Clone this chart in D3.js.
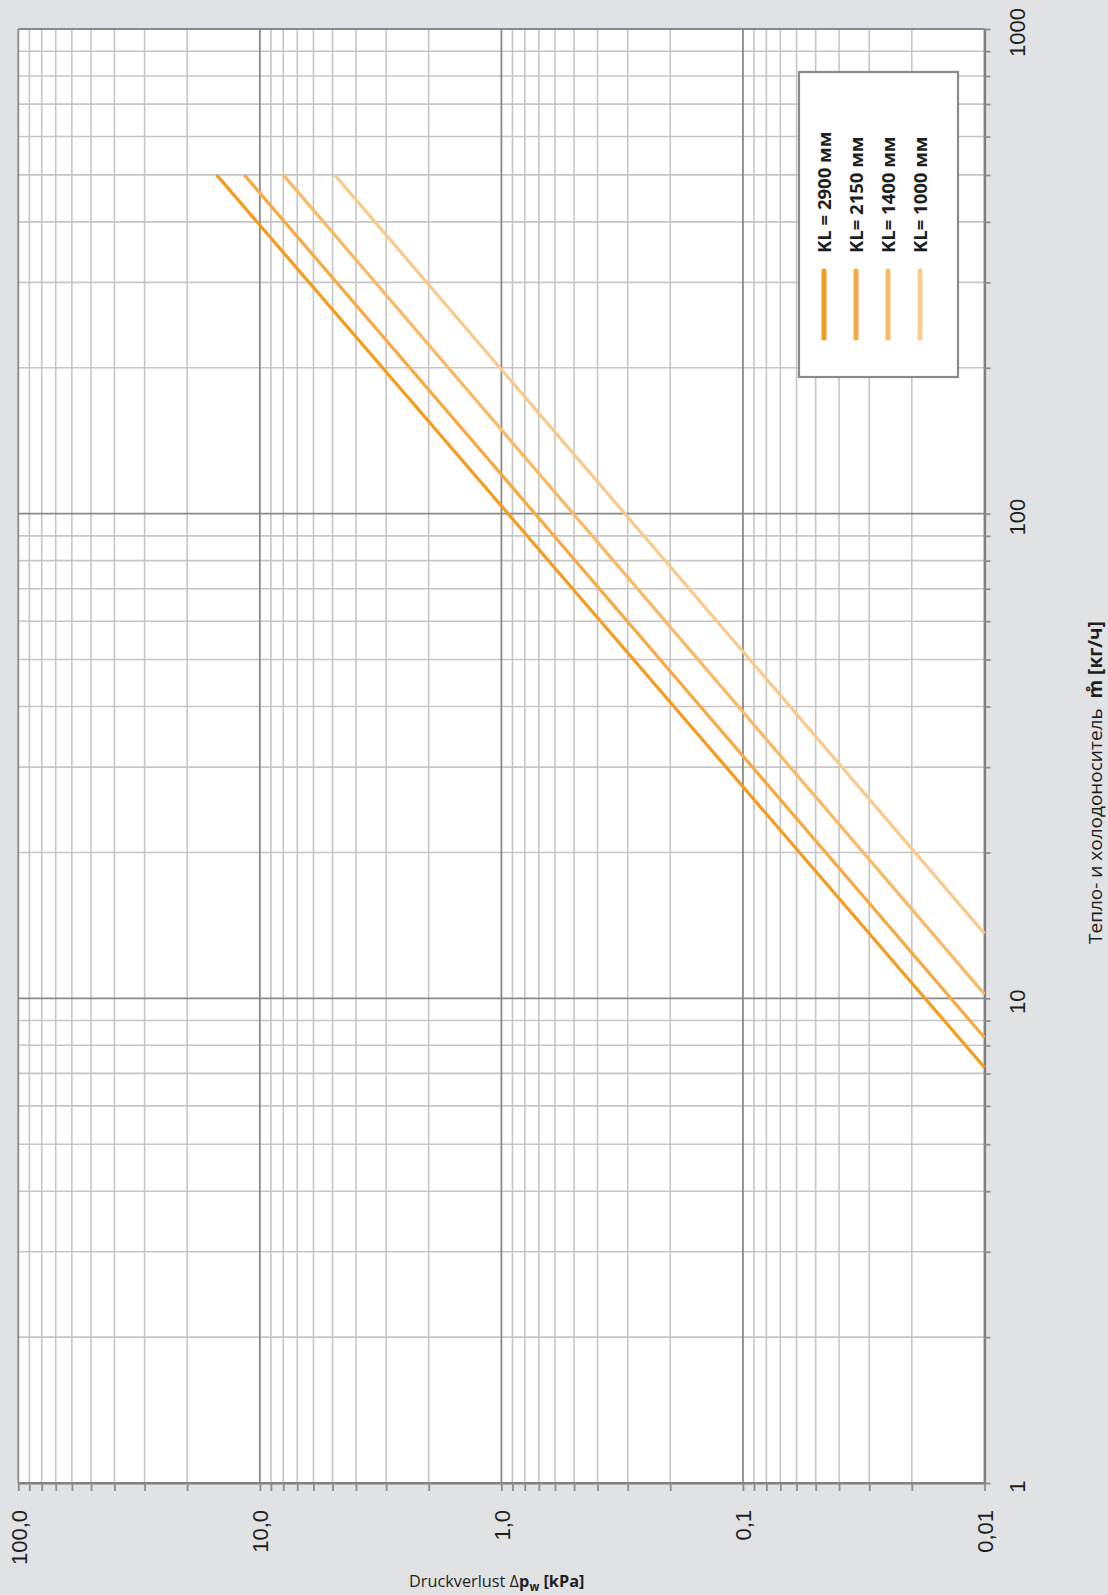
<!DOCTYPE html>
<html><head><meta charset="utf-8">
<script src="https://cdn.jsdelivr.net/npm/d3@7/dist/d3.min.js"></script>
<style>
html,body{margin:0;padding:0;background:#e1e2e4;}
svg{display:block;font-family:"Open Sans",Arial,sans-serif;}
</style></head><body>
<svg id="chart" width="1108" height="1595"></svg>
<script>
// ---- data ----
const seriesNames = ["KL = 2900 мм", "KL= 2150 мм", "KL= 1400 мм", "KL= 1000 мм"];
const seriesColors = ["#f59c1e", "#f7aa43", "#f9b966", "#fbc98c"];
// flow rate ṁ [кг/ч] at the two ends of each line
const flowKL2900 = [500, 7.2];
const flowKL2150 = [500, 8.3];
const flowKL1400 = [500, 10.2];
const flowKL1000 = [500, 13.6];
// pressure loss Δp [kPa] at the same points
const dpKL2900 = [15.1, 0.01];
const dpKL2150 = [11.6, 0.01];
const dpKL1400 = [8.0, 0.01];
const dpKL1000 = [4.9, 0.01];

const pressureTicks = [100, 10, 1, 0.1, 0.01];
const pressureLabels = ["100,0", "10,0", "1,0", "0,1", "0,01"];
const flowTicks = [1, 10, 100, 1000];
const flowLabels = ["1", "10", "100", "1000"];

// ---- layout ----
const svg = d3.select("#chart");
const L = 18.3, R = 984.5, T = 29, B = 1483;
const x = d3.scaleLog().domain([100, 0.01]).range([L, R]);
const y = d3.scaleLog().domain([1, 1000]).range([B, T]);

function minors(majors) {
  const out = [];
  const lo = Math.min(...majors), hi = Math.max(...majors);
  for (let d = lo; d < hi * 0.999; d *= 10)
    for (let k = 2; k <= 9; k++) out.push(+(d * k).toPrecision(3));
  return out;
}
const pMinor = minors(pressureTicks);
const fMinor = minors(flowTicks);

svg.append("rect").attr("x", L).attr("y", T).attr("width", R - L).attr("height", B - T).attr("fill", "#fff");

const grid = svg.append("g");
grid.selectAll(".vmin").data(pMinor).join("line")
  .attr("x1", d => x(d)).attr("x2", d => x(d)).attr("y1", T).attr("y2", B)
  .attr("stroke", "#c6c6c6").attr("stroke-width", 1.6);
grid.selectAll(".hmin").data(fMinor).join("line")
  .attr("y1", d => y(d)).attr("y2", d => y(d)).attr("x1", L).attr("x2", R)
  .attr("stroke", "#c6c6c6").attr("stroke-width", 1.6);
grid.selectAll(".vmaj").data(pressureTicks).join("line")
  .attr("x1", d => x(d)).attr("x2", d => x(d)).attr("y1", T).attr("y2", B)
  .attr("stroke", "#8a8a8a").attr("stroke-width", 1.8);
grid.selectAll(".hmaj").data(flowTicks).join("line")
  .attr("y1", d => y(d)).attr("y2", d => y(d)).attr("x1", L).attr("x2", R)
  .attr("stroke", "#8a8a8a").attr("stroke-width", 1.8);

// ---- axes ----
const pLab = new Map(pressureTicks.map((v, i) => [v, pressureLabels[i]]));
const fLab = new Map(flowTicks.map((v, i) => [v, flowLabels[i]]));

const gx = svg.append("g").attr("transform", `translate(0,${B})`)
  .call(d3.axisBottom(x).tickValues(pressureTicks.concat(pMinor)).tickSize(8).tickSizeOuter(0)
    .tickFormat(d => pLab.get(d) || ""));
gx.select(".domain").attr("stroke", "#7f7f7f").attr("stroke-width", 2.2);
gx.selectAll(".tick line").attr("stroke", "#8c8c8c").attr("stroke-width", 1.8);
gx.selectAll(".tick text")
  .attr("transform", "rotate(-90)").attr("x", -27).attr("y", 0).attr("dy", "0.36em")
  .attr("text-anchor", "end").attr("font-size", 22).attr("fill", "#1e1e1e");

const gy = svg.append("g").attr("transform", `translate(${R},0)`)
  .call(d3.axisRight(y).tickValues(flowTicks.concat(fMinor)).tickSize(6).tickSizeOuter(0)
    .tickFormat(d => fLab.get(d) || ""));
gy.select(".domain").attr("stroke", "#7f7f7f").attr("stroke-width", 2.2);
gy.selectAll(".tick line").attr("stroke", "#8c8c8c").attr("stroke-width", 1.8);
gy.selectAll(".tick text")
  .attr("transform", "rotate(-90)").attr("x", -3).attr("y", 33).attr("dy", "0.36em")
  .attr("text-anchor", "middle").attr("font-size", 22).attr("fill", "#1e1e1e");

// ---- data lines ----
const seriesData = [
  d3.zip(flowKL2900, dpKL2900),
  d3.zip(flowKL2150, dpKL2150),
  d3.zip(flowKL1400, dpKL1400),
  d3.zip(flowKL1000, dpKL1000)
];
const line = d3.line().x(d => x(d[1])).y(d => y(d[0]));
svg.append("g").selectAll("path").data(seriesData).join("path")
  .attr("d", line).attr("fill", "none")
  .attr("stroke", (d, i) => seriesColors[i]).attr("stroke-width", 3.2);

// ---- legend ----
const lg = svg.append("g");
lg.append("rect").attr("x", 799).attr("y", 72).attr("width", 159).attr("height", 305)
  .attr("fill", "#fff").attr("stroke", "#8a8a8a").attr("stroke-width", 2.2);
const legX = [824, 856, 888, 920];
seriesNames.forEach((name, i) => {
  lg.append("line").attr("x1", legX[i]).attr("x2", legX[i]).attr("y1", 271).attr("y2", 338)
    .attr("stroke", seriesColors[i]).attr("stroke-width", 5).attr("stroke-linecap", "round");
  lg.append("text").attr("transform", `translate(${legX[i]},253) rotate(-90)`)
    .attr("dy", "0.36em").attr("font-size", 18.5).attr("font-weight", "bold").attr("fill", "#1e1e1e")
    .attr("xml:space", "preserve")
    .text(name);
});

// ---- axis titles ----
const tx = svg.append("text").attr("x", 409).attr("y", 1587).attr("font-size", 16.3).attr("fill", "#1e1e1e");
tx.append("tspan").text("Druckverlust Δ");
tx.append("tspan").attr("font-weight", "bold").text("p");
tx.append("tspan").attr("font-weight", "bold").attr("font-size", 11.5).attr("dy", 4).text("w");
tx.append("tspan").attr("font-weight", "bold").attr("dy", -4).text(" [kPa]");

const ty = svg.append("text").attr("transform", "translate(1102,944) rotate(-90)")
  .attr("font-size", 19).attr("fill", "#1e1e1e").attr("xml:space", "preserve");
ty.append("tspan").text("Тепло- и холодоноситель  ");
ty.append("tspan").attr("font-weight", "bold").text("m\u030A [кг/ч]");
</script>
</body></html>
